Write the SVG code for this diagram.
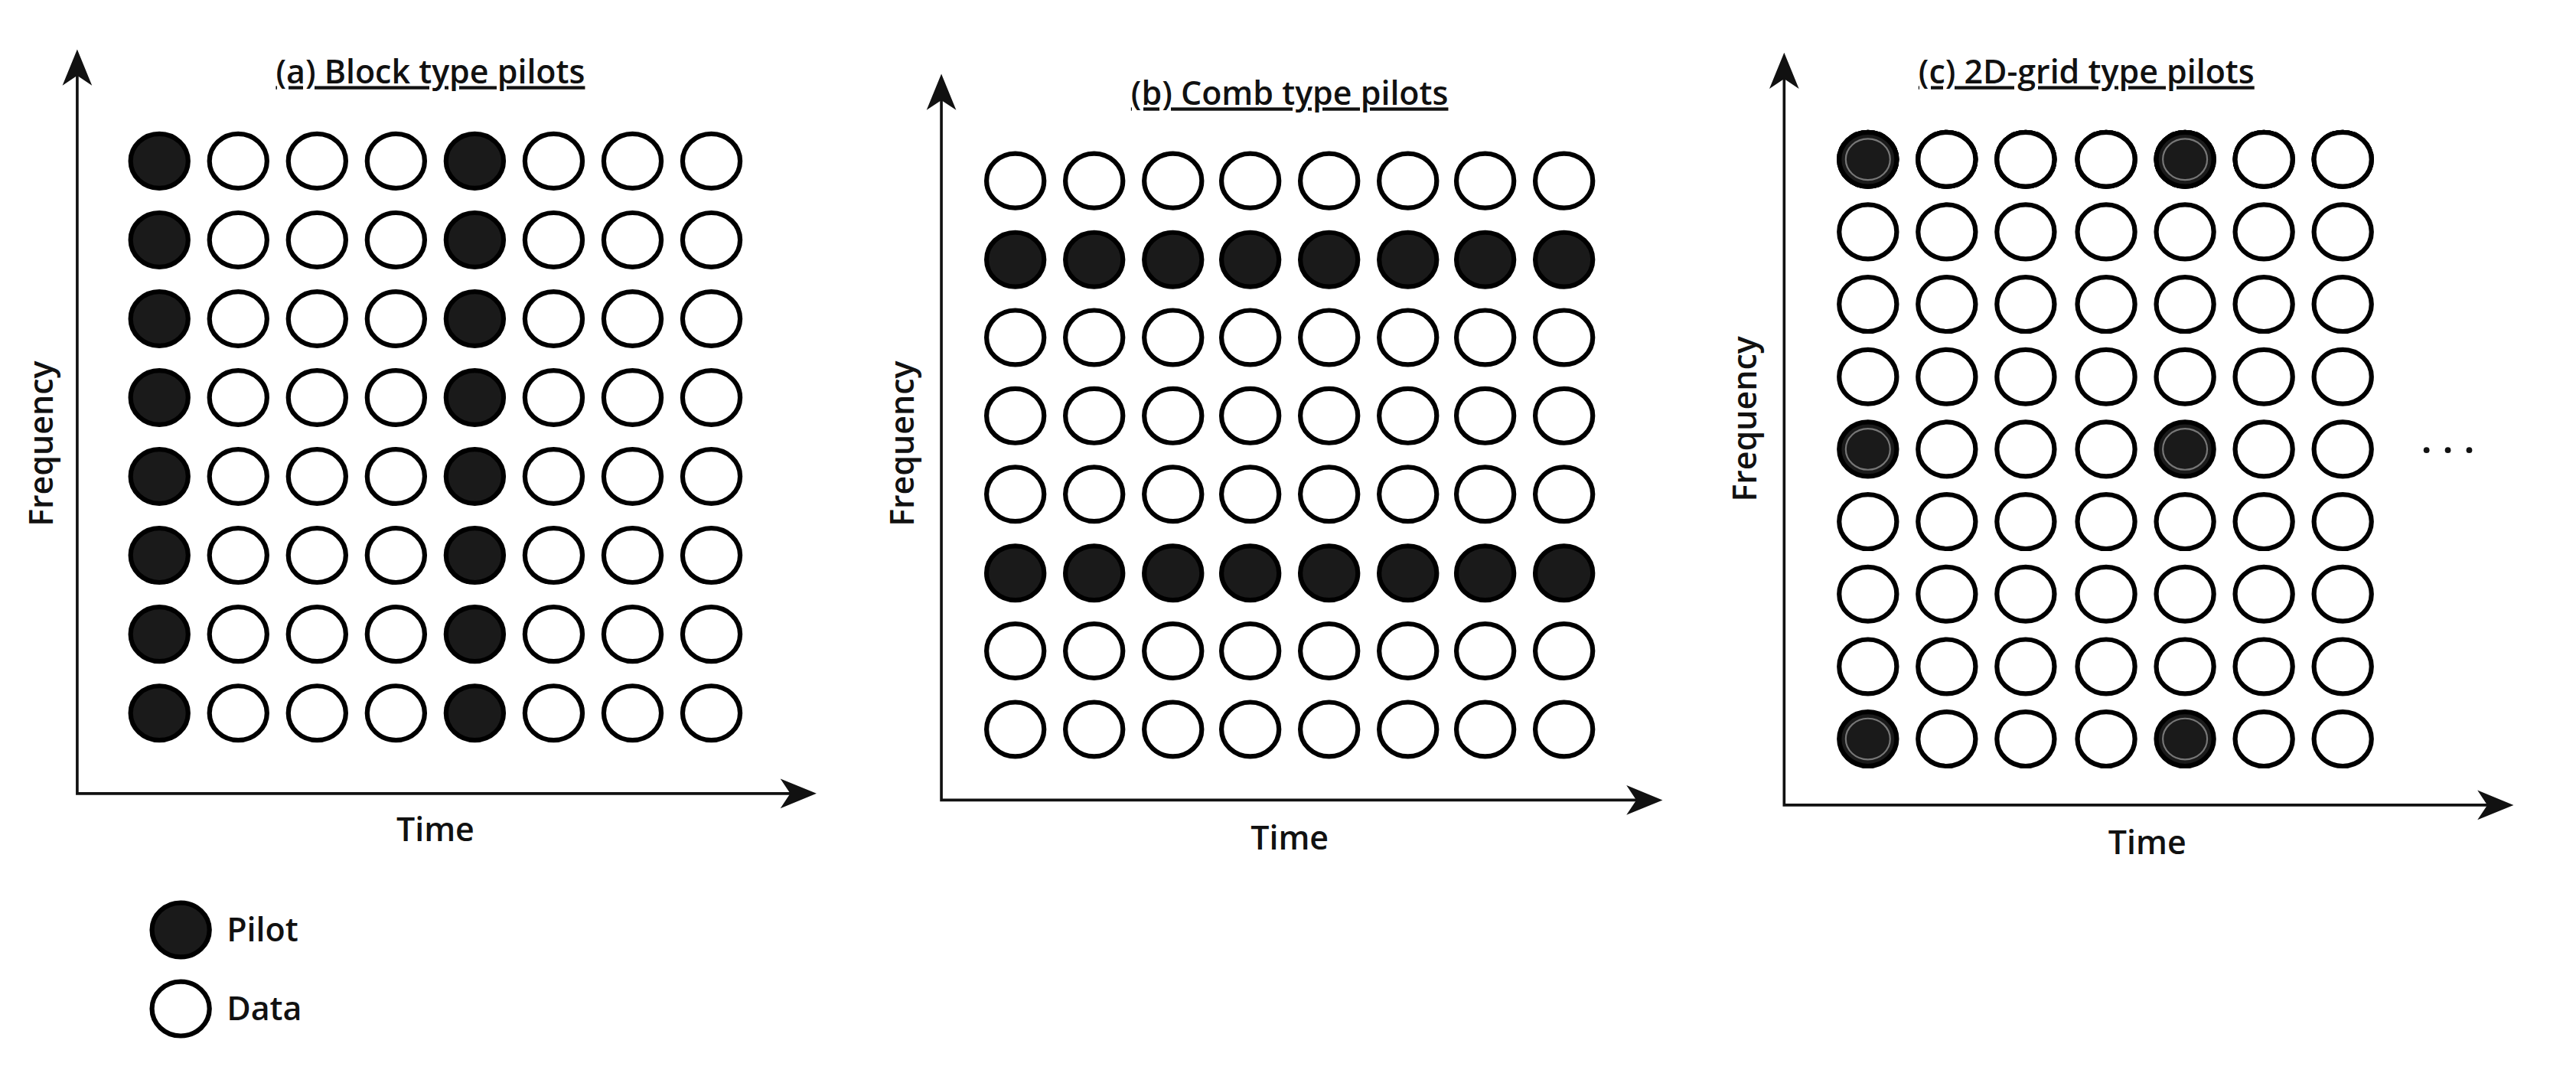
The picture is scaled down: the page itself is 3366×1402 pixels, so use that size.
<svg xmlns="http://www.w3.org/2000/svg" xmlns:xlink="http://www.w3.org/1999/xlink" width="3366" height="1402" viewBox="0 0 3366 1402">
<style>
.t{font-family:"Open Sans","DejaVu Sans",sans-serif;font-size:20px;font-weight:600;fill:#111}
.ti{font-family:"Open Sans","DejaVu Sans",sans-serif;font-size:20px;font-weight:600;fill:#111;text-decoration:underline}
.ax{stroke:#111;stroke-width:1.7;fill:none}
.ah{fill:#111}
</style>
<defs>
<ellipse id="d" cx="0" cy="0" rx="17.5" ry="16.5" fill="#fff" stroke="#000" stroke-width="2.9"/>
<ellipse id="p" cx="0" cy="0" rx="17.5" ry="16.5" fill="#1a1a1a" stroke="#000" stroke-width="2.9"/>
<g id="q"><ellipse cx="0" cy="0" rx="17.5" ry="16.5" fill="#1a1a1a" stroke="#000" stroke-width="2.9"/><ellipse cx="0" cy="0" rx="13.5" ry="12.5" fill="none" stroke="#777" stroke-width="1"/></g>
</defs>
<rect width="3366" height="1402" fill="#fff"/>
<g transform="scale(2.1467)">
<g id="connectors">
<path class="ax" d="M47,40 V483 H488"/>
<path class="ah" d="M47,30 L38,52 L47,46 L56,52 Z"/>
<path class="ah" d="M497,483 L475,474 L481,483 L475,492 Z"/>
<path class="ax" d="M573,55 V487 H1003"/>
<path class="ah" d="M573,45 L564,67 L573,61 L582,67 Z"/>
<path class="ah" d="M1012,487 L990,478 L996,487 L990,496 Z"/>
<path class="ax" d="M1086,42 V490 H1520"/>
<path class="ah" d="M1086,32 L1077,54 L1086,48 L1095,54 Z"/>
<path class="ah" d="M1530,490 L1508,481 L1514,490 L1508,499 Z"/>
</g>
<g id="panel-a">
<text class="ti" x="262" y="51" text-anchor="middle">(a) Block type pilots</text>
<text class="t" transform="translate(32,270) rotate(-90)" text-anchor="middle">Frequency</text>
<text class="t" x="265" y="512" text-anchor="middle">Time</text>
<g id="a-r0"><use href="#p" x="97" y="98"/><use href="#d" x="145" y="98"/><use href="#d" x="193" y="98"/><use href="#d" x="241" y="98"/><use href="#p" x="289" y="98"/><use href="#d" x="337" y="98"/><use href="#d" x="385" y="98"/><use href="#d" x="433" y="98"/></g>
<use href="#a-r0" y="48"/><use href="#a-r0" y="96"/><use href="#a-r0" y="144"/><use href="#a-r0" y="192"/><use href="#a-r0" y="240"/><use href="#a-r0" y="288"/><use href="#a-r0" y="336"/>
</g>
<g id="panel-b">
<text class="ti" x="785" y="64" text-anchor="middle">(b) Comb type pilots</text>
<text class="t" transform="translate(556,270) rotate(-90)" text-anchor="middle">Frequency</text>
<text class="t" x="785" y="517" text-anchor="middle">Time</text>
<g id="b-d"><use href="#d" x="618" y="110"/><use href="#d" x="666" y="110"/><use href="#d" x="714" y="110"/><use href="#d" x="761" y="110"/><use href="#d" x="809" y="110"/><use href="#d" x="857" y="110"/><use href="#d" x="904" y="110"/><use href="#d" x="952" y="110"/></g>
<g id="b-p"><use href="#p" x="618" y="158"/><use href="#p" x="666" y="158"/><use href="#p" x="714" y="158"/><use href="#p" x="761" y="158"/><use href="#p" x="809" y="158"/><use href="#p" x="857" y="158"/><use href="#p" x="904" y="158"/><use href="#p" x="952" y="158"/></g>
<use href="#b-d" y="95.4"/><use href="#b-d" y="143.1"/><use href="#b-d" y="190.8"/><use href="#b-p" y="190.8"/><use href="#b-d" y="286.2"/><use href="#b-d" y="333.9"/>
</g>
<g id="panel-c">
<text class="ti" x="1270" y="51" text-anchor="middle">(c) 2D-grid type pilots</text>
<text class="t" transform="translate(1069,255) rotate(-90)" text-anchor="middle">Frequency</text>
<text class="t" x="1307" y="520" text-anchor="middle">Time</text>
<g id="c-d"><use href="#d" x="1137" y="97"/><use href="#d" x="1185" y="97"/><use href="#d" x="1233" y="97"/><use href="#d" x="1282" y="97"/><use href="#d" x="1330" y="97"/><use href="#d" x="1378" y="97"/><use href="#d" x="1426" y="97"/></g>
<g id="c-p"><use href="#q" x="1137" y="97"/><use href="#d" x="1185" y="97"/><use href="#d" x="1233" y="97"/><use href="#d" x="1282" y="97"/><use href="#q" x="1330" y="97"/><use href="#d" x="1378" y="97"/><use href="#d" x="1426" y="97"/></g>
<use href="#c-p"/>
<use href="#c-d" y="44.1"/><use href="#c-d" y="88.2"/><use href="#c-d" y="132.3"/><use href="#c-p" y="176.4"/><use href="#c-d" y="220.5"/><use href="#c-d" y="264.6"/><use href="#c-d" y="308.7"/><use href="#c-p" y="352.8"/>
<circle cx="1477" cy="274" r="1.8" fill="#111"/><circle cx="1490" cy="274" r="1.8" fill="#111"/><circle cx="1503" cy="274" r="1.8" fill="#111"/>
</g>
<g id="legend">
<use href="#p" x="110" y="566"/><text class="t" x="138" y="573">Pilot</text>
<use href="#d" x="110" y="614"/><text class="t" x="138" y="621">Data</text>
</g>
</g>
</svg>
